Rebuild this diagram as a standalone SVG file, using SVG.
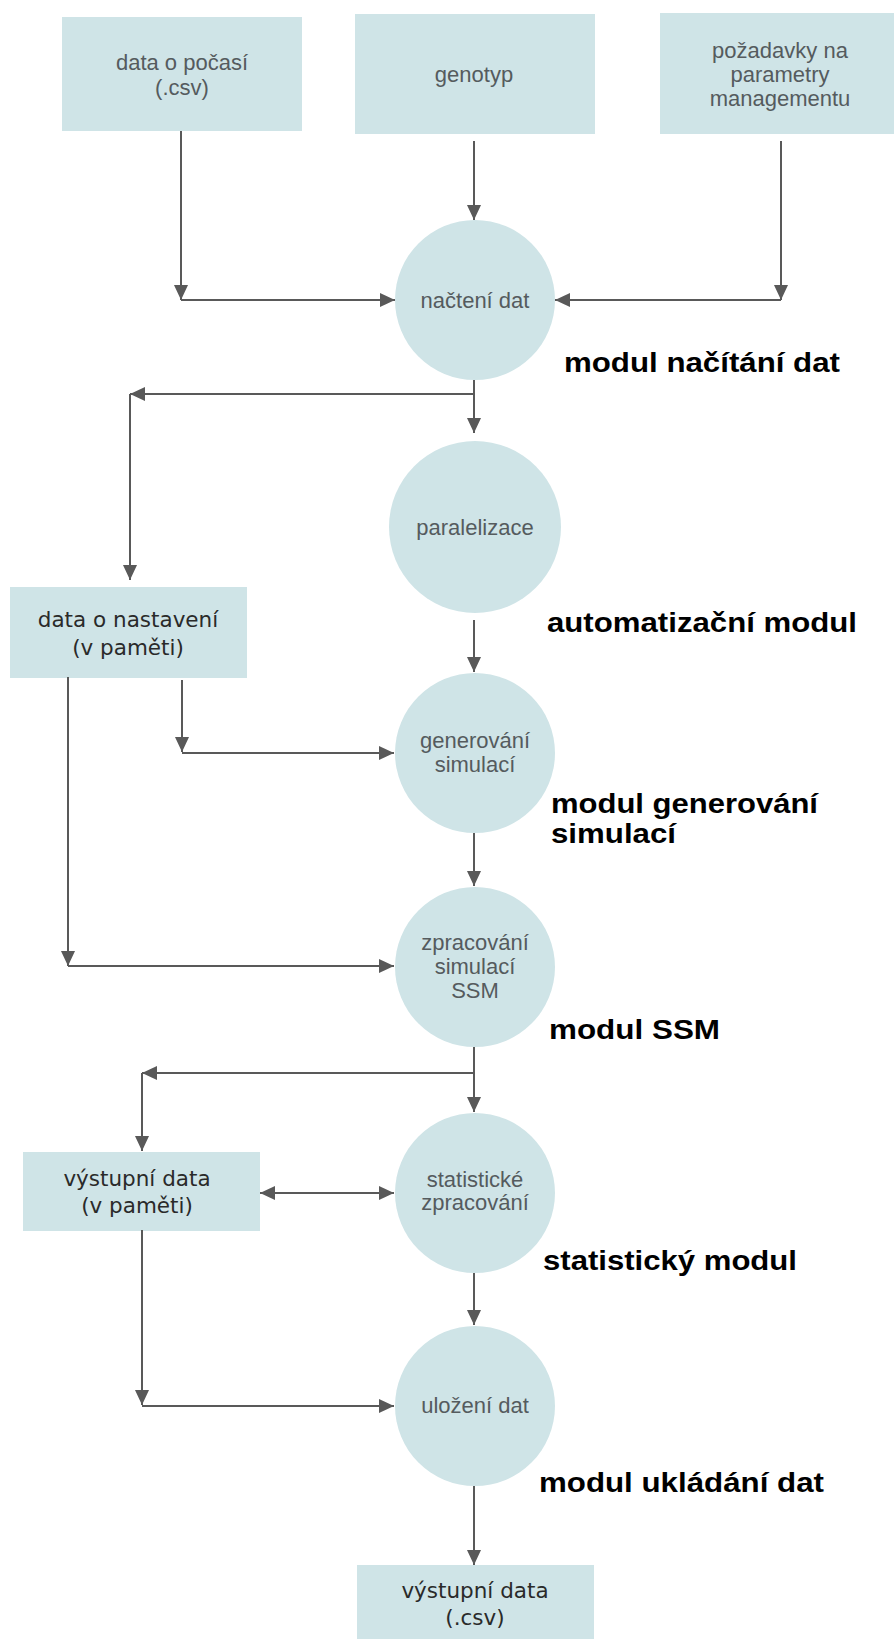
<svg xmlns="http://www.w3.org/2000/svg" width="894" height="1639" viewBox="0 0 894 1639">
<defs>
<marker id="ah" viewBox="0 0 15 14" refX="15" refY="7" markerWidth="15" markerHeight="14" markerUnits="userSpaceOnUse" orient="auto-start-reverse">
<path d="M0,0 L15,7 L0,14 z" fill="#595959"/>
</marker>
<style>
.box{fill:#cfe4e7}
.node{fill:#cfe4e7}
.t{font-family:"Liberation Sans",Arial,sans-serif;font-size:22px;fill:#555b5e;text-anchor:middle}
.td{font-family:"DejaVu Sans",Verdana,sans-serif;font-size:21.5px;fill:#2a2a2a;text-anchor:middle}
.lab{font-family:"Liberation Sans",Arial,sans-serif;font-size:27px;font-weight:bold;fill:#000}
.c{fill:none;stroke:#595959;stroke-width:2}
.a{fill:none;stroke:#595959;stroke-width:2;marker-end:url(#ah)}
</style>
</defs>
<rect width="894" height="1639" fill="#fff"/>

<g id="n-pocasi">
<rect class="box" x="62" y="17" width="240" height="114"/>
<text class="t" x="182" y="70">data o počasí</text>
<text class="t" x="182" y="95">(.csv)</text>
</g>
<g id="n-genotyp">
<rect class="box" x="355" y="14" width="240" height="120"/>
<text class="t" x="474" y="82">genotyp</text>
</g>
<g id="n-pozadavky">
<rect class="box" x="660" y="13" width="234" height="121"/>
<text class="t" x="780" y="58">požadavky na</text>
<text class="t" x="780" y="82">parametry</text>
<text class="t" x="780" y="106">managementu</text>
</g>
<g id="n-nacteni">
<circle class="node" cx="475" cy="300" r="80"/>
<text class="t" x="475" y="308">načtení dat</text>
</g>
<g id="n-paralelizace">
<circle class="node" cx="475" cy="527" r="86"/>
<text class="t" x="475" y="535">paralelizace</text>
</g>
<g id="n-nastaveni">
<rect class="box" x="10" y="587" width="237" height="91"/>
<text class="td" x="128" y="627">data o nastavení</text>
<text class="td" x="128" y="655">(v paměti)</text>
</g>
<g id="n-generovani">
<circle class="node" cx="475" cy="753" r="80"/>
<text class="t" x="475" y="748">generování</text>
<text class="t" x="475" y="772">simulací</text>
</g>
<g id="n-zpracovani">
<circle class="node" cx="475" cy="967" r="80"/>
<text class="t" x="475" y="950">zpracování</text>
<text class="t" x="475" y="974">simulací</text>
<text class="t" x="475" y="998">SSM</text>
</g>
<g id="n-vystupni-pamet">
<rect class="box" x="23" y="1152" width="237" height="79"/>
<text class="td" x="137" y="1186">výstupní data</text>
<text class="td" x="137" y="1213">(v paměti)</text>
</g>
<g id="n-statisticke">
<circle class="node" cx="475" cy="1193" r="80"/>
<text class="t" x="475" y="1187">statistické</text>
<text class="t" x="475" y="1210">zpracování</text>
</g>
<g id="n-ulozeni">
<circle class="node" cx="475" cy="1406" r="80"/>
<text class="t" x="475" y="1413">uložení dat</text>
</g>
<g id="n-vystupni-csv">
<rect class="box" x="357" y="1565" width="237" height="80"/>
<text class="td" x="475" y="1598">výstupní data</text>
<text class="td" x="475" y="1625">(.csv)</text>
</g>

<g id="labels">
<text class="lab" x="564" y="372" textLength="276" lengthAdjust="spacingAndGlyphs">modul načítání dat</text>
<text class="lab" x="547" y="632" textLength="310" lengthAdjust="spacingAndGlyphs">automatizační modul</text>
<text class="lab" x="551" y="813" textLength="267" lengthAdjust="spacingAndGlyphs">modul generování</text>
<text class="lab" x="551" y="843" textLength="125" lengthAdjust="spacingAndGlyphs">simulací</text>
<text class="lab" x="549" y="1039" textLength="171" lengthAdjust="spacingAndGlyphs">modul SSM</text>
<text class="lab" x="543" y="1270" textLength="254" lengthAdjust="spacingAndGlyphs">statistický modul</text>
<text class="lab" x="539" y="1492" textLength="285" lengthAdjust="spacingAndGlyphs">modul ukládání dat</text>
</g>

<g id="connectors">
<line class="a" x1="181" y1="131" x2="181" y2="300"/>
<line class="a" x1="181" y1="300" x2="395" y2="300"/>
<line class="a" x1="474" y1="141" x2="474" y2="220"/>
<line class="a" x1="781" y1="141" x2="781" y2="300"/>
<line class="a" x1="781" y1="300" x2="555" y2="300"/>
<line class="c" x1="474" y1="380" x2="474" y2="394"/>
<line class="a" x1="474" y1="394" x2="474" y2="433"/>
<line class="a" x1="474" y1="394" x2="130" y2="394"/>
<line class="a" x1="130" y1="394" x2="130" y2="580"/>
<line class="a" x1="474" y1="620" x2="474" y2="672"/>
<line class="a" x1="68" y1="677" x2="68" y2="966"/>
<line class="a" x1="68" y1="966" x2="394" y2="966"/>
<line class="a" x1="182" y1="680" x2="182" y2="752"/>
<line class="a" x1="182" y1="753" x2="394" y2="753"/>
<line class="a" x1="474" y1="833" x2="474" y2="886"/>
<line class="a" x1="474" y1="1047" x2="474" y2="1112"/>
<line class="a" x1="474" y1="1073" x2="142" y2="1073"/>
<line class="a" x1="142" y1="1073" x2="142" y2="1151"/>
<line class="a" x1="260" y1="1193" x2="394" y2="1193" marker-start="url(#ah)"/>
<line class="a" x1="474" y1="1273" x2="474" y2="1325"/>
<line class="a" x1="142" y1="1230" x2="142" y2="1405"/>
<line class="a" x1="142" y1="1406" x2="394" y2="1406"/>
<line class="a" x1="474" y1="1486" x2="474" y2="1565"/>
</g>
</svg>
